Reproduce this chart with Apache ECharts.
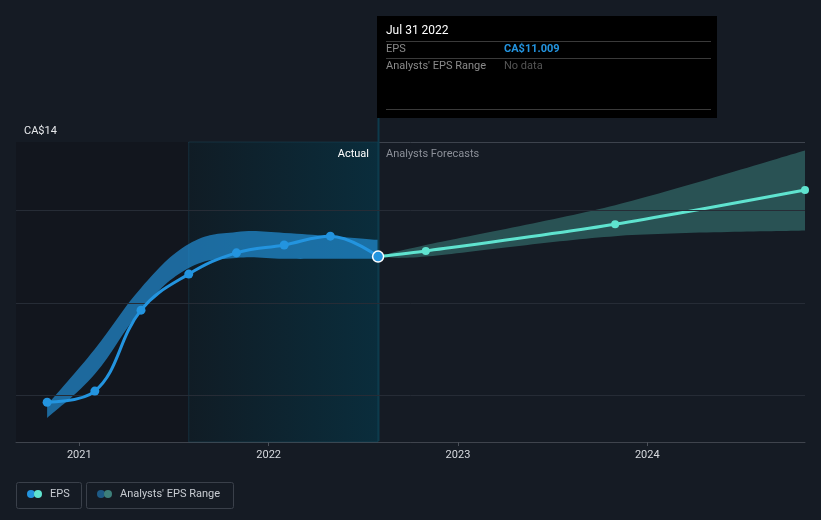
<!DOCTYPE html>
<html>
<head>
<meta charset="utf-8">
<script src="https://cdn.jsdelivr.net/npm/echarts@6/dist/echarts.min.js"></script>
<style>
  html, body { margin: 0; padding: 0; background: #151b24; }
  #chart { width: 821px; height: 520px; }
</style>
</head>
<body>
<div id="chart"></div>
<script>
// ---- data ----
const actualDates = ['2020-10-31','2021-01-31','2021-04-30','2021-07-31','2021-10-31','2022-01-31','2022-04-30','2022-07-31'];
const epsActual = [7.86, 8.10, 9.85, 10.63, 11.09, 11.26, 11.45, 11.009];
const rangeLowHist = [7.52, 8.47, 9.85, 10.76, 10.98, 10.96, 10.96, 10.96];
const rangeHighHist = [7.80, 9.01, 10.33, 11.28, 11.54, 11.52, 11.45, 11.37];
const forecastDates = ['2022-07-31','2022-10-31','2023-10-31','2024-10-31'];
const epsForecast = [11.009, 11.13, 11.71, 12.45];
const rangeLowFc = [11.009, 11.01, 11.45, 11.57];
const rangeHighFc = [11.009, 11.26, 12.12, 13.30];
const yearTicks = ['2021-01-01','2022-01-01','2023-01-01','2024-01-01'];
const gridValues = [8, 10, 12];
const yMin = 7, yMax = 13.486;
const xMinDate = '2020-09-01', xMaxDate = '2024-10-31';
const pastYearStart = '2021-07-31', todayDate = '2022-07-31';
const tooltipDate = 'Jul 31 2022', tooltipEps = 'CA$11.009';

const t = s => new Date(s + 'T00:00:00Z').getTime();
const pairs = (d, v) => d.map((x, i) => [t(x), v[i]]);
const bandRows = (d, lo, hi) => d.map((x, i) => [t(x), lo[i], hi[i]]);

const BLUE = '#2394df', MINT = '#5fe3cf';
const chart = echarts.init(document.getElementById('chart'), null, { renderer: 'canvas' });

// smooth path through pixel points (cardinal-like)
function smoothSeg(pts, k, moveFirst) {
  let d = (moveFirst ? 'M' : 'L') + pts[0][0] + ',' + pts[0][1];
  for (let i = 0; i < pts.length - 1; i++) {
    const p0 = pts[Math.max(i - 1, 0)], p1 = pts[i], p2 = pts[i + 1], p3 = pts[Math.min(i + 2, pts.length - 1)];
    const c1 = [p1[0] + (p2[0] - p0[0]) * k, p1[1] + (p2[1] - p0[1]) * k];
    const c2 = [p2[0] - (p3[0] - p1[0]) * k, p2[1] - (p3[1] - p1[1]) * k];
    d += 'C' + c1[0] + ',' + c1[1] + ',' + c2[0] + ',' + c2[1] + ',' + p2[0] + ',' + p2[1];
  }
  return d;
}
function makeBand(name, rows, color, k) {
  return {
    name, type: 'custom', data: rows, z: 2, silent: true,
    encode: { x: 0, y: [1, 2] },
    renderItem: function (params, api) {
      if (params.dataIndex !== 0) return null;
      const up = rows.map(r => api.coord([r[0], r[2]]));
      const lo = rows.map(r => api.coord([r[0], r[1]])).reverse();
      const d = smoothSeg(up, k, true) + smoothSeg(lo, k, false) + 'Z';
      return { type: 'path', shape: { pathData: d }, style: { fill: color }, silent: true };
    }
  };
}

const option = {
  backgroundColor: '#151b24',
  animation: false,
  textStyle: { fontFamily: 'Roboto, sans-serif' },
  grid: { left: 16, right: 16, top: 142, bottom: 78 },
  xAxis: {
    type: 'value',
    min: t(xMinDate), max: t(xMaxDate),
    axisLine: { show: true, lineStyle: { color: '#3f444d', width: 1 } },
    axisTick: { show: true, length: 4, lineStyle: { color: '#4a4f58' }, customValues: yearTicks.map(t) },
    axisLabel: {
      customValues: yearTicks.map(t), color: '#d6d9de', fontSize: 11, margin: 8,
      formatter: v => String(new Date(v).getUTCFullYear())
    },
    splitLine: { show: false }
  },
  yAxis: {
    type: 'value', min: yMin, max: yMax, interval: yMax - yMin,
    axisLine: { show: false }, axisTick: { show: false },
    axisLabel: {
      inside: true, align: 'left', verticalAlign: 'bottom', margin: 8,
      color: '#e6e8eb', fontSize: 11, padding: [0, 0, 5, 0],
      formatter: v => v < 8 ? 'CA$7' : 'CA$14'
    },
    splitLine: { show: true, lineStyle: { color: '#3d434d', width: 1 } }
  },
  series: [
    {
      name: 'bg', type: 'line', data: [[t(xMinDate), yMin]], symbol: 'none', silent: true, z: 0,
      lineStyle: { opacity: 0 },
      markArea: {
        silent: true,
        data: [
          [{ xAxis: t(xMinDate), itemStyle: { color: '#12161e' } }, { xAxis: t(pastYearStart) }],
          [{ xAxis: t(pastYearStart), itemStyle: {
              color: new echarts.graphic.LinearGradient(0, 0, 1, 0, [
                { offset: 0, color: '#101c25' }, { offset: 1, color: '#0a2d3c' }]),
              borderColor: 'rgba(30,90,110,0.35)', borderWidth: 1 } },
           { xAxis: t(todayDate) }]
        ]
      }
    },
    {
      name: 'grid', type: 'line', data: [[t(xMinDate), yMin]], symbol: 'none', silent: true, z: 1,
      lineStyle: { opacity: 0 },
      markLine: {
        silent: true, symbol: 'none', label: { show: false },
        lineStyle: { color: '#262c36', width: 1, type: 'solid' },
        data: gridValues.map(v => ({ yAxis: v }))
      }
    },
    makeBand('histRange', bandRows(actualDates, rangeLowHist, rangeHighHist), 'rgba(35,148,223,0.66)', 0.2),
    makeBand('fcRange', bandRows(forecastDates, rangeLowFc, rangeHighFc), 'rgba(95,227,207,0.28)', 0.15),
    { name: 'EPS forecast', type: 'line', data: pairs(forecastDates, epsForecast).map((p, i) =>
        i === 0 ? { value: p, symbolSize: 0 } : p),
      smooth: 0.25, symbol: 'circle', symbolSize: 8, z: 4,
      lineStyle: { color: MINT, width: 3 }, itemStyle: { color: MINT } },
    { name: 'EPS', type: 'line', data: pairs(actualDates, epsActual).map((p, i, a) =>
        i === a.length - 1 ? { value: p, symbolSize: 11, itemStyle: { color: BLUE, borderColor: '#ffffff', borderWidth: 1.5 } } : p),
      smooth: 0.4, symbol: 'circle', symbolSize: 9, z: 5,
      lineStyle: { color: BLUE, width: 3 }, itemStyle: { color: BLUE } }
  ]
};
chart.setOption(option);

const p = chart.convertToPixel({ gridIndex: 0 }, [t(todayDate), epsActual[epsActual.length - 1]]);
const gx = Math.round(p[0]) + 0.5;
const bx = Math.round(p[0]);
const F = 'Roboto, sans-serif';
chart.setOption({
  graphic: [
    { type: 'line', shape: { x1: gx, y1: 117, x2: gx, y2: 441 }, style: { stroke: '#0d3b4c', lineWidth: 2 }, z: 3, silent: true },
    { type: 'text', x: bx - 9, y: 154, style: { text: 'Actual', fill: '#ffffff', font: '11px ' + F, align: 'right', verticalAlign: 'middle' }, z: 6 },
    { type: 'text', x: bx + 8, y: 154, style: { text: 'Analysts Forecasts', fill: '#8c9099', font: '11px ' + F, align: 'left', verticalAlign: 'middle' }, z: 6 },
    { type: 'rect', shape: { x: bx - 1, y: 16, width: 340, height: 102 }, style: { fill: '#000000' }, z: 10 },
    { type: 'text', x: bx + 8, y: 31, style: { text: tooltipDate, fill: '#ffffff', font: '12px ' + F, verticalAlign: 'middle' }, z: 11 },
    { type: 'line', shape: { x1: bx + 8, y1: 41.5, x2: bx + 333, y2: 41.5 }, style: { stroke: '#3a3a3a', lineWidth: 1 }, z: 11 },
    { type: 'text', x: bx + 8, y: 49, style: { text: 'EPS', fill: '#8a8a8a', font: '11px ' + F, verticalAlign: 'middle' }, z: 11 },
    { type: 'text', x: bx + 126, y: 49, style: { text: tooltipEps, fill: BLUE, font: 'bold 11px ' + F, verticalAlign: 'middle' }, z: 11 },
    { type: 'line', shape: { x1: bx + 8, y1: 58.5, x2: bx + 333, y2: 58.5 }, style: { stroke: '#3a3a3a', lineWidth: 1 }, z: 11 },
    { type: 'text', x: bx + 8, y: 66, style: { text: "Analysts' EPS Range", fill: '#8a8a8a', font: '11px ' + F, verticalAlign: 'middle' }, z: 11 },
    { type: 'text', x: bx + 126, y: 66, style: { text: 'No data', fill: '#555555', font: '11px ' + F, verticalAlign: 'middle' }, z: 11 },
    { type: 'line', shape: { x1: bx + 8, y1: 109.5, x2: bx + 333, y2: 109.5 }, style: { stroke: '#3a3a3a', lineWidth: 1 }, z: 11 },
    // legend
    { type: 'rect', shape: { x: 16.5, y: 482.5, width: 65, height: 26, r: 2 }, style: { fill: 'none', stroke: '#3a404a', lineWidth: 1 }, z: 11 },
    { type: 'circle', shape: { cx: 31, cy: 494, r: 4 }, style: { fill: BLUE }, z: 11 },
    { type: 'circle', shape: { cx: 38, cy: 494, r: 4 }, style: { fill: MINT }, z: 12 },
    { type: 'text', x: 50, y: 494, style: { text: 'EPS', fill: '#c8ccd2', font: '11px ' + F, verticalAlign: 'middle' }, z: 11 },
    { type: 'rect', shape: { x: 86.5, y: 482.5, width: 147, height: 26, r: 2 }, style: { fill: 'none', stroke: '#3a404a', lineWidth: 1 }, z: 11 },
    { type: 'circle', shape: { cx: 101, cy: 494, r: 4 }, style: { fill: '#1d5a86' }, z: 11 },
    { type: 'circle', shape: { cx: 108, cy: 494, r: 4 }, style: { fill: '#3d7f7a' }, z: 12 },
    { type: 'text', x: 120, y: 494, style: { text: "Analysts' EPS Range", fill: '#c8ccd2', font: '11px ' + F, verticalAlign: 'middle' }, z: 11 }
  ]
});
</script>
</body>
</html>
